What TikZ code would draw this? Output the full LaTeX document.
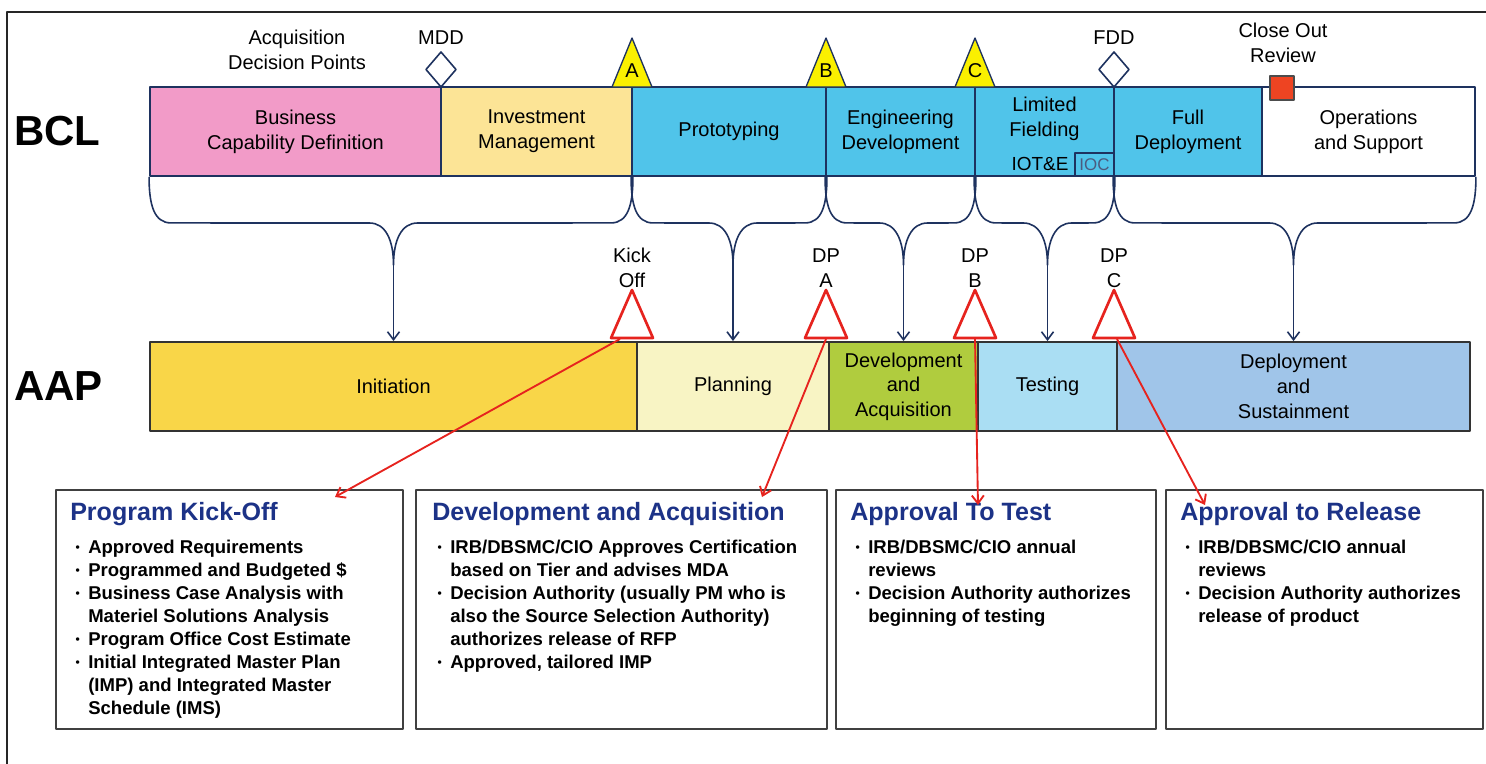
\documentclass[tikz,border=0pt]{standalone}
\usepackage{fontspec}
\setmainfont{Liberation Sans}
\usetikzlibrary{arrows.meta,calc}
\definecolor{navyln}{RGB}{30,50,95}
\definecolor{ttlblue}{RGB}{28,50,135}
\definecolor{pinkc}{RGB}{242,155,200}
\definecolor{invc}{RGB}{252,228,150}
\definecolor{cyanc}{RGB}{80,196,234}
\definecolor{initc}{RGB}{249,214,72}
\definecolor{planc}{RGB}{248,244,196}
\definecolor{devc}{RGB}{176,204,62}
\definecolor{testc}{RGB}{170,222,243}
\definecolor{deplc}{RGB}{160,197,233}
\definecolor{ytrif}{RGB}{250,240,0}
\definecolor{redln}{RGB}{230,35,30}
\definecolor{closec}{RGB}{238,68,34}
\newcommand{\bul}{\hspace*{4pt}\makebox[9.5pt][l]{\raisebox{1.2pt}{\fontsize{9}{9}\selectfont\textbullet}}}
\newcommand{\ind}{\hspace*{13.5pt}}
\newcommand{\boxttl}[1]{{\fontsize{18.8}{20}\selectfont\color{ttlblue}#1}}
\begin{document}
\begin{tikzpicture}[x=0.75pt,y=-0.75pt,line join=round,>={Straight Barb[length=6pt,width=9pt]}]
\tikzset{phase/.style={draw=navyln,line width=1.4pt,inner sep=0pt,minimum height=66.75pt,align=center,font=\fontsize{15}{18.5}\selectfont},
  aphase/.style={phase,draw=black!80},
  mlabel/.style={align=center,inner sep=0pt,font=\fontsize{15}{18.5}\selectfont},
  ytri/.style={draw=navyln,line width=1pt,fill=ytrif},
  diam/.style={draw=navyln,line width=1.2pt,fill=white},
  rtri/.style={draw=redln,line width=2pt,fill=white},
  brace/.style={draw=navyln,line width=1.2pt},
  redarr/.style={draw=redln,line width=1.4pt,->},
  infobox/.style={draw=black!75,line width=1.6pt,inner sep=0pt,anchor=north west,minimum height=179.25pt},
  boxtext/.style={anchor=north west,align=left,inner sep=0pt,font=\fontsize{13.9}{17.25}\selectfont\bfseries}}
\useasboundingbox (0,0) rectangle (1486,764);
\draw[line width=1.5pt,black!85] (7,764)--(7,12)--(1486,12);
\node[anchor=west,inner sep=0pt,font=\fontsize{31.5}{32}\selectfont\bfseries] (bcl) at (14,131) {BCL};
\node[anchor=west,inner sep=0pt,font=\fontsize{31.5}{32}\selectfont\bfseries] (aap) at (14,386) {AAP};
\foreach \nm/\xa/\xb/\col/\txt in {bcd/150/441/pinkc/{Business\\Capability Definition},
    inv/441/632/invc/{Investment\\Management},
    pro/632/826/cyanc/Prototyping,
    eng/826/975/cyanc/{Engineering\\Development},
    lim/975/1114/cyanc/{},
    ful/1114/1262/cyanc/{Full\\Deployment},
    ops/1262/1475/white/{Operations\\and Support}}
  \node[phase,fill=\col,minimum width={(\xb-\xa)*0.75pt}] (\nm) at ({(\xa+\xb)/2},131.5) {\txt};
\node[mlabel] (limt) at (1044.5,118.5) {Limited\\Fielding};
\node[mlabel,font=\fontsize{14.2}{15}\selectfont] (iote) at (1040,164) {IOT\&E};
\node[draw=navyln,line width=0.8pt,inner sep=0pt,minimum width=29.25pt,minimum height=17.25pt,font=\fontsize{12.7}{13}\selectfont,text=navyln!80] (ioc) at (1094.5,164.5) {IOC};
\foreach \nm/\x/\l in {ma/632/A, mb/826/B, mc/975/C}{
  \draw[ytri] (\x-20,87)--(\x,38)--(\x+20,87)--cycle;
  \node[mlabel] (\nm) at (\x,71) {\l};}
\foreach \nm/\x/\l in {mdd/441/MDD, fdd/1114/FDD}{
  \draw[diam] (\x,52)--(\x+15,69.5)--(\x,87)--(\x-15,69.5)--cycle;
  \node[mlabel] (\nm) at (\x,38) {\l};}
\node[mlabel] (adp) at (297,50) {Acquisition\\Decision Points};
\node[mlabel] (corl) at (1283,43) {Close Out\\Review};
\node[draw=black!70,line width=0.8pt,fill=closec,minimum size=18pt,inner sep=0pt] (cor) at (1282,88) {};
\foreach \nm/\xa/\xb/\col/\txt in {ini/150/637/initc/Initiation,
    pla/637/829/planc/Planning,
    dva/829/978/devc/{Development\\and\\Acquisition},
    tst/978/1117/testc/Testing,
    dep/1117/1470/deplc/{Deployment\\and\\Sustainment}}
  \node[aphase,fill=\col,minimum width={(\xb-\xa)*0.75pt}] (\nm) at ({(\xa+\xb)/2},386.5) {\txt};
\foreach \l/\r/\t in {bcd/inv/ini, pro/pro/pla, eng/eng/dva, lim/lim/tst, ful/ops/dep}{
  \coordinate (tip\t) at (\t.north |- 0,265);
  \draw[brace] (\l.south west) .. controls +(0,28) and +(-17,0) .. ++(22,46) -- ($(tip\t)+(-24,-42)$)
    .. controls +(16,0) and +(0,-25) .. (tip\t) .. controls +(0,-25) and +(-16,0) .. ($(tip\t)+(24,-42)$)
    -- ($(\r.south east)+(-22,46)$) .. controls +(17,0) and +(0,28) .. (\r.south east);
  \draw[brace,->] (tip\t) -- (\t.north);}
\foreach \nm/\x/\la/\lb in {ko/632/Kick/Off, dpa/826/DP/A, dpb/975/DP/B, dpc/1114/DP/C}{
  \draw[rtri] (\x-21,338)--(\x,290)--(\x+21,338)--cycle;
  \coordinate (\nm) at (\x,339);
  \node[mlabel] (\nm l) at (\x,268) {\la\\\lb};}
\foreach \nm/\xa/\xb in {pko/55/402, dev/415/826, att/835/1155, atr/1165/1482}
  \node[infobox,minimum width={(\xb-\xa)*0.75pt}] (\nm) at (\xa,489) {};
\node[boxtext] (pkot) at ($(pko.north west)+(15,13)$) {\boxttl{Program Kick-Off}\\[7.5pt]
  \bul Approved Requirements\\
  \bul Programmed and Budgeted \$\\
  \bul Business Case Analysis with\\
  \ind Materiel Solutions Analysis\\
  \bul Program Office Cost Estimate\\
  \bul Initial Integrated Master Plan\\
  \ind (IMP) and Integrated Master\\
  \ind Schedule (IMS)};
\node[boxtext] (devt) at ($(dev.north west)+(17,13)$) {\boxttl{Development and Acquisition}\\[7.5pt]
  \bul IRB/DBSMC/CIO Approves Certification\\
  \ind based on Tier and advises MDA\\
  \bul Decision Authority (usually PM who is\\
  \ind also the Source Selection Authority)\\
  \ind authorizes release of RFP\\
  \bul Approved, tailored IMP};
\node[boxtext] (attt) at ($(att.north west)+(15,13)$) {\boxttl{Approval To Test}\\[7.5pt]
  \bul IRB/DBSMC/CIO annual\\
  \ind reviews\\
  \bul Decision Authority authorizes\\
  \ind beginning of testing};
\node[boxtext] (atrt) at ($(atr.north west)+(15,13)$) {\boxttl{Approval to Release}\\[7.5pt]
  \bul IRB/DBSMC/CIO annual\\
  \ind reviews\\
  \bul Decision Authority authorizes\\
  \ind release of product};
\draw[redarr] ($(ko)+(-12,0)$) -- ($(pko.north west)+(280,8)$);
\draw[redarr] (dpa) -- ($(dev.north west)+(347,8)$);
\draw[redarr] (dpb) -- ($(att.north west)+(143,16)$);
\draw[redarr] ($(dpc)+(3,0)$) -- ($(atr.north west)+(40,16)$);
\end{tikzpicture}
\end{document}
